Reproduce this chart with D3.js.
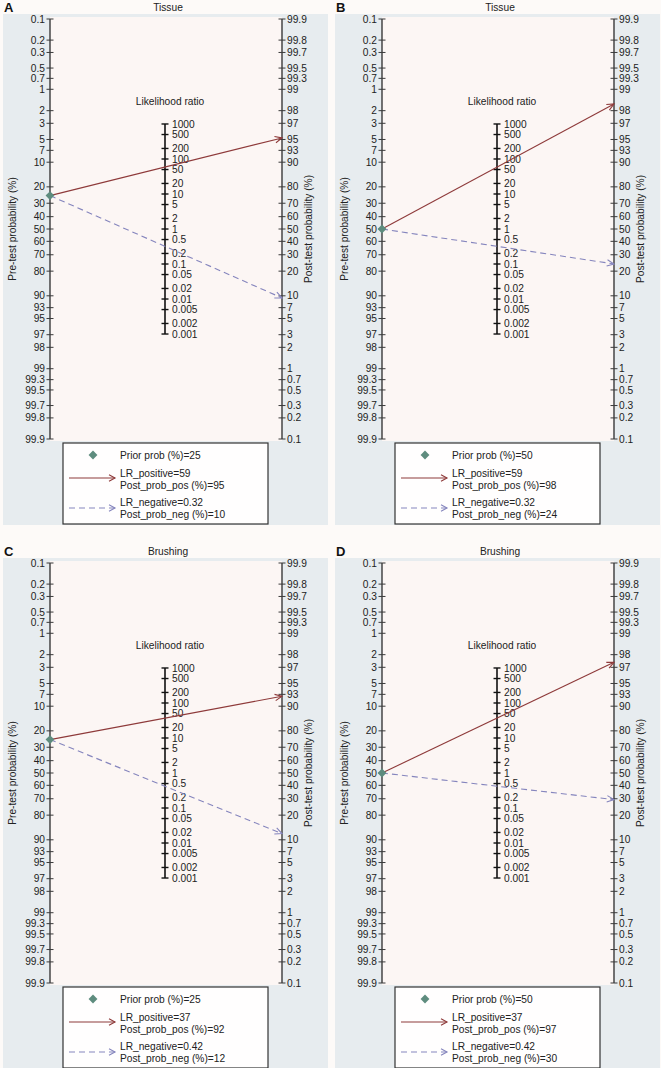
<!DOCTYPE html>
<html><head><meta charset="utf-8">
<script src="https://cdn.jsdelivr.net/npm/d3@7"></script>
<style>
html,body{margin:0;padding:0;background:#fdfaf8;}
svg{display:block;font-family:"Liberation Sans",Arial,sans-serif;}
</style></head>
<body>
<svg id="chart" width="661" height="1068"></svg>
<script>
// ---- data ----
const panelLetters = ["A", "B", "C", "D"];
const panelTitles = ["Tissue", "Tissue", "Brushing", "Brushing"];
const priorProb = [25, 50, 25, 50];
const lrPositive = [59, 59, 37, 37];
const lrNegative = [0.32, 0.32, 0.42, 0.42];
const postProbPos = [95, 98, 92, 97];
const postProbNeg = [10, 24, 12, 30];
const preTicks = [0.1,0.2,0.3,0.5,0.7,1,2,3,5,7,10,20,30,40,50,60,70,80,90,93,95,97,98,99,99.3,99.5,99.7,99.8,99.9];
const postTicks = [99.9,99.8,99.7,99.5,99.3,99,98,97,95,93,90,80,70,60,50,40,30,20,10,7,5,3,2,1,0.7,0.5,0.3,0.2,0.1];
const lrTicks = [1000,500,200,100,50,20,10,5,2,1,0.5,0.2,0.1,0.05,0.02,0.01,0.005,0.002,0.001];

const svg = d3.select("#chart");
const logit = p => Math.log((p/100)/(1-p/100));

const colPos = "#8e3a3a", colNeg = "#8585bd", colDia = "#5e8c7e", colAxis = "#3a3a3a";
const fs = 10.2;

const offsets = [[0,0],[332,0],[0,544],[332,544]];

panelLetters.forEach((letter, i) => {
  const [ox, oy] = offsets[i];
  const g = svg.append("g").attr("transform", `translate(${ox},${oy})`);
  const xL = 50, xR = 282, xM = 165, yTop = 19, yBot = 439;

  // scales
  const yPre = d3.scaleLinear().domain([logit(0.1), logit(99.9)]).range([yTop, yBot]);
  const yPost = d3.scaleLinear().domain([logit(99.9), logit(0.1)]).range([yTop, yBot]);
  const half = (yBot - yTop) / 2 / logit(99.9) ; // px per logit unit
  const yMid = (yTop + yBot) / 2;
  const yLR = d3.scaleLog().domain([0.001, 1000])
      .range([yMid + half*Math.log(1000)/2, yMid - half*Math.log(1000)/2]);

  // backgrounds
  g.append("rect").attr("x", 3).attr("y", 14).attr("width", 325).attr("height", 511).attr("fill", "#e7ecef");
  g.append("rect").attr("x", xL).attr("y", 17).attr("width", xR - xL).attr("height", 424).attr("fill", "#fcf6f4");

  // letter and title
  g.append("text").attr("x", 4).attr("y", 12).attr("font-size", 13).attr("font-weight", "bold").attr("fill", "#111").text(letter);
  g.append("text").attr("x", 168).attr("y", 11).attr("text-anchor", "middle").attr("font-size", fs).attr("fill", "#222").text(panelTitles[i]);

  // left axis
  const la = g.append("g");
  la.append("line").attr("x1", xL).attr("x2", xL).attr("y1", yTop).attr("y2", yBot).attr("stroke", colAxis).attr("stroke-width", 1.4);
  const lt = la.selectAll("g.t").data(preTicks).join("g").attr("transform", d => `translate(${xL},${yPre(logit(d))})`);
  lt.append("line").attr("x1", -3.5).attr("x2", 3.5).attr("stroke", colAxis).attr("stroke-width", 1);
  lt.append("text").attr("x", -5).attr("dy", "0.35em").attr("text-anchor", "end").attr("font-size", fs).attr("fill", "#222").text(d => d);

  // right axis
  const ra = g.append("g");
  ra.append("line").attr("x1", xR).attr("x2", xR).attr("y1", yTop).attr("y2", yBot).attr("stroke", colAxis).attr("stroke-width", 1.4);
  const rt = ra.selectAll("g.t").data(postTicks).join("g").attr("transform", d => `translate(${xR},${yPost(logit(d))})`);
  rt.append("line").attr("x1", -3.5).attr("x2", 3.5).attr("stroke", colAxis).attr("stroke-width", 1);
  rt.append("text").attr("x", 5).attr("dy", "0.35em").attr("font-size", fs).attr("fill", "#222").text(d => d);

  // LR axis
  const ma = g.append("g");
  ma.append("line").attr("x1", xM).attr("x2", xM).attr("y1", yLR(1000)).attr("y2", yLR(0.001)).attr("stroke", "#111").attr("stroke-width", 1.6);
  const mt = ma.selectAll("g.t").data(lrTicks).join("g").attr("transform", d => `translate(${xM},${yLR(d)})`);
  mt.append("line").attr("x1", -3.5).attr("x2", 3.5).attr("stroke", "#111").attr("stroke-width", 1.4);
  mt.append("text").attr("x", 7).attr("dy", "0.35em").attr("font-size", fs).attr("fill", "#222").text(d => d);
  g.append("text").attr("x", 170).attr("y", 101).attr("dy", "0.35em").attr("text-anchor", "middle").attr("font-size", fs).attr("fill", "#222").text("Likelihood ratio");

  // axis titles
  g.append("text").attr("transform", `translate(12,${yMid}) rotate(-90)`).attr("dy", "0.35em").attr("text-anchor", "middle").attr("font-size", fs).attr("fill", "#222").text("Pre-test probability (%)");
  g.append("text").attr("transform", `translate(308,${yMid}) rotate(-90)`).attr("dy", "0.35em").attr("text-anchor", "middle").attr("font-size", fs).attr("fill", "#222").text("Post-test probability (%)");

  // lines through prior and LR to right axis
  const y0 = yPre(logit(priorProb[i]));
  function drawLine(lr, color, dash) {
    const ym = yLR(lr);
    const y1 = y0 + (ym - y0) * (xR - xL) / (xM - xL);
    g.append("line").attr("x1", xL).attr("y1", y0).attr("x2", xR).attr("y2", y1)
      .attr("stroke", color).attr("stroke-width", 1.1).attr("stroke-dasharray", dash);
    const ang = Math.atan2(y1 - y0, xR - xL);
    const L = 7, W = 3.2;
    const p = s => [xR - L*Math.cos(ang) + s*W*Math.sin(ang), y1 - L*Math.sin(ang) - s*W*Math.cos(ang)];
    const a1 = p(1), a2 = p(-1);
    g.append("path").attr("d", `M${a1[0]},${a1[1]}L${xR},${y1}L${a2[0]},${a2[1]}`)
      .attr("fill", "none").attr("stroke", color).attr("stroke-width", 1.1);
  }
  drawLine(lrPositive[i], colPos, null);
  drawLine(lrNegative[i], colNeg, "6,4");

  // diamond
  g.append("path").attr("d", d3.symbol().type(d3.symbolDiamond2).size(50)()).attr("transform", `translate(${xL},${y0})`).attr("fill", colDia);

  // legend
  const lg = g.append("g").attr("transform", "translate(63,443)");
  lg.append("rect").attr("width", 205).attr("height", 81).attr("fill", "#fffefe").attr("stroke", "#333").attr("stroke-width", 1.2);
  lg.append("path").attr("d", d3.symbol().type(d3.symbolDiamond2).size(50)()).attr("transform", "translate(30,12)").attr("fill", colDia);
  lg.append("text").attr("x", 57).attr("y", 16).attr("font-size", fs).attr("fill", "#222").text(`Prior prob (%)=${priorProb[i]}`);
  function legLine(y, color, dash) {
    lg.append("line").attr("x1", 6).attr("x2", 52).attr("y1", y).attr("y2", y).attr("stroke", color).attr("stroke-width", 1.1).attr("stroke-dasharray", dash);
    lg.append("path").attr("d", `M46,${y-3.2}L52,${y}L46,${y+3.2}`).attr("fill", "none").attr("stroke", color).attr("stroke-width", 1.1);
  }
  legLine(35, colPos, null);
  lg.append("text").attr("x", 57).attr("y", 34).attr("font-size", fs).attr("fill", "#222").text(`LR_positive=${lrPositive[i]}`);
  lg.append("text").attr("x", 57).attr("y", 46).attr("font-size", fs).attr("fill", "#222").text(`Post_prob_pos (%)=${postProbPos[i]}`);
  legLine(65, colNeg, "6,4");
  lg.append("text").attr("x", 57).attr("y", 63).attr("font-size", fs).attr("fill", "#222").text(`LR_negative=${lrNegative[i]}`);
  lg.append("text").attr("x", 57).attr("y", 75).attr("font-size", fs).attr("fill", "#222").text(`Post_prob_neg (%)=${postProbNeg[i]}`);
});
</script>
</body></html>
